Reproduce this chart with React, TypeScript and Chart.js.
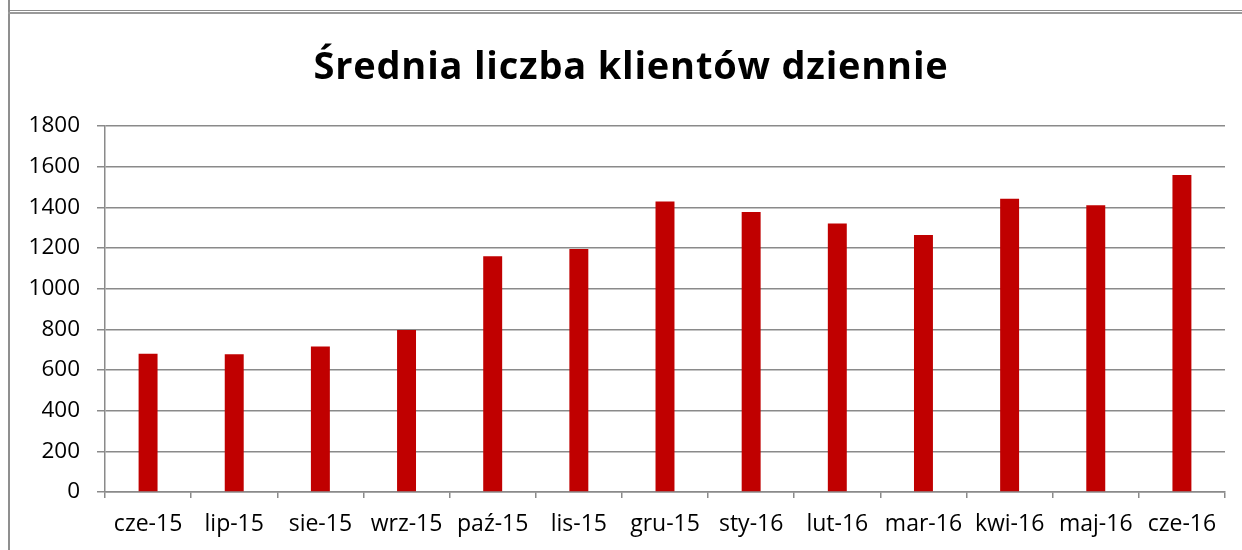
import React, { useEffect, useRef } from "react";
import { Chart, registerables } from "chart.js";

Chart.register(...registerables);

const TITLE = "Średnia liczba klientów dziennie";
const CATEGORIES = ["cze-15", "lip-15", "sie-15", "wrz-15", "paź-15", "lis-15", "gru-15", "sty-16", "lut-16", "mar-16", "kwi-16", "maj-16", "cze-16"];
const CLIENTS = [680, 677, 715, 797, 1160, 1195, 1429, 1377, 1320, 1264, 1442, 1410, 1559];
const Y_MIN = 0;
const Y_MAX = 1800;
const Y_STEP = 200;

const FONT = "'Open Sans', 'DejaVu Sans', sans-serif";
const GRID = "#8a8a8a";

const titlePlugin = {
  id: "customTitle",
  afterDraw(chart: any) {
    const ctx = chart.ctx;
    ctx.save();
    ctx.font = `bold 38px ${FONT}`;
    try {
      (ctx as any).letterSpacing = "0.8px";
    } catch (e) {}
    ctx.fillStyle = "#000";
    ctx.textAlign = "center";
    ctx.textBaseline = "alphabetic";
    ctx.fillText(TITLE, 631, 79);
    ctx.restore();
  },
};

export default function App() {
  const ref = useRef<HTMLCanvasElement | null>(null);
  useEffect(() => {
    if (!ref.current) return;
    const chart = new Chart(ref.current, {
      type: "bar",
      data: {
        labels: CATEGORIES,
        datasets: [
          {
            label: TITLE,
            data: CLIENTS,
            backgroundColor: "#C00000",
            borderWidth: 0,
            categoryPercentage: 1,
            barPercentage: 0.22,
          },
        ],
      },
      options: {
        animation: false,
        responsive: false,
        maintainAspectRatio: false,
        layout: { padding: { left: 0, right: 17, top: 126, bottom: 0 } },
        plugins: {
          legend: { display: false },
          title: { display: false },
          tooltip: { enabled: false },
        },
        scales: {
          x: {
            grid: {
              display: true,
              drawOnChartArea: false,
              drawTicks: true,
              tickLength: 6,
              color: GRID,
              lineWidth: 1.5,
              offset: true,
            },
            border: { display: true, color: GRID, width: 1.5 },
            ticks: {
              color: "#000",
              font: { family: FONT, size: 23 },
              padding: 13,
              maxRotation: 0,
              autoSkip: false,
            },
            afterFit(scale: any) {
              scale.height = 58;
            },
          },
          y: {
            min: Y_MIN,
            max: Y_MAX,
            ticks: {
              stepSize: Y_STEP,
              color: "#000",
              font: { family: FONT, size: 22.5 },
              padding: 17,
              callback: (v: any) => String(v),
            },
            grid: {
              color: GRID,
              lineWidth: 1.5,
              drawTicks: true,
              tickLength: 8,
            },
            border: { display: true, color: GRID, width: 1.5 },
            afterFit(scale: any) {
              scale.width = 105;
            },
          },
        },
      },
      plugins: [titlePlugin],
    });
    return () => chart.destroy();
  }, []);

  return (
    <div style={{ position: "absolute", left: 0, top: 0, width: 1242, height: 550, background: "#fff", overflow: "hidden" }}>
      <div style={{ position: "absolute", left: 8, top: 0, width: 2, height: 550, background: "#8f8f8f" }} />
      <div style={{ position: "absolute", left: 8, top: 10, width: 1234, height: 4, borderTop: "1px solid #8c8c8c", borderBottom: "2px solid #9a9a9a", boxSizing: "border-box" }} />
      <canvas ref={ref} width={1242} height={550} style={{ position: "absolute", left: 0, top: 0 }} />
    </div>
  );
}
